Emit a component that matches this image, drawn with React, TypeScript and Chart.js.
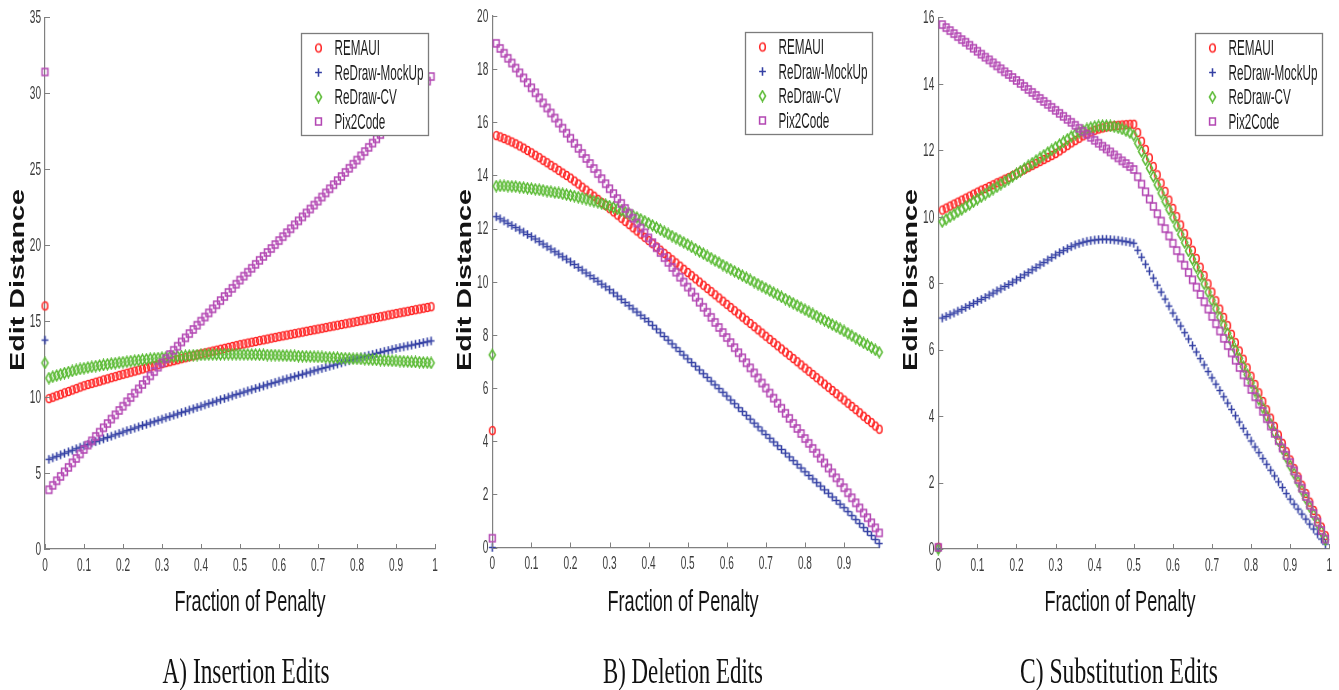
import React, { useEffect, useRef } from 'react';
import { Chart, registerables } from 'chart.js';

Chart.register(...registerables);

// ---------------- data ----------------
const seriesNames = ['REMAUI', 'ReDraw-MockUp', 'ReDraw-CV', 'Pix2Code'];
const seriesColors = ['#ff2424', '#3440a4', '#5cbb36', '#b347b3'];
const seriesShapes = ['circle', 'plus', 'diamond', 'square'];

const penalty = [
  0.01, 0.02, 0.03, 0.04, 0.05, 0.06, 0.07, 0.08, 0.09, 0.1,
  0.11, 0.12, 0.13, 0.14, 0.15, 0.16, 0.17, 0.18, 0.19, 0.2,
  0.21, 0.22, 0.23, 0.24, 0.25, 0.26, 0.27, 0.28, 0.29, 0.3,
  0.31, 0.32, 0.33, 0.34, 0.35, 0.36, 0.37, 0.38, 0.39, 0.4,
  0.41, 0.42, 0.43, 0.44, 0.45, 0.46, 0.47, 0.48, 0.49, 0.5,
  0.51, 0.52, 0.53, 0.54, 0.55, 0.56, 0.57, 0.58, 0.59, 0.6,
  0.61, 0.62, 0.63, 0.64, 0.65, 0.66, 0.67, 0.68, 0.69, 0.7,
  0.71, 0.72, 0.73, 0.74, 0.75, 0.76, 0.77, 0.78, 0.79, 0.8,
  0.81, 0.82, 0.83, 0.84, 0.85, 0.86, 0.87, 0.88, 0.89, 0.9,
  0.91, 0.92, 0.93, 0.94, 0.95, 0.96, 0.97, 0.98, 0.99,
];

// value at penalty 0 (isolated first point) for REMAUI, MockUp, CV, Pix2Code
const insertionAtZero = [16.0, 13.75, 12.25, 31.4];
const deletionAtZero = [4.4, 0.0, 7.25, 0.35];
const substitutionAtZero = [0.05, 0.0, 0.0, 0.05];

// A) Insertion edits
const insREMAUI = [
  9.90, 9.99, 10.09, 10.18, 10.28, 10.37, 10.47, 10.56, 10.66, 10.75,
  10.83, 10.90, 10.98, 11.05, 11.13, 11.20, 11.28, 11.35, 11.43, 11.50,
  11.57, 11.64, 11.71, 11.78, 11.85, 11.92, 11.99, 12.06, 12.13, 12.20,
  12.27, 12.33, 12.40, 12.46, 12.53, 12.59, 12.66, 12.72, 12.79, 12.85,
  12.91, 12.97, 13.03, 13.09, 13.15, 13.21, 13.27, 13.33, 13.39, 13.45,
  13.50, 13.56, 13.61, 13.66, 13.72, 13.77, 13.82, 13.88, 13.93, 13.98,
  14.03, 14.08, 14.13, 14.18, 14.23, 14.28, 14.33, 14.38, 14.43, 14.48,
  14.53, 14.58, 14.63, 14.68, 14.73, 14.78, 14.83, 14.88, 14.93, 14.98,
  15.03, 15.08, 15.14, 15.19, 15.24, 15.29, 15.34, 15.40, 15.45, 15.50,
  15.55, 15.60, 15.65, 15.70, 15.75, 15.80, 15.85, 15.90, 15.95,
];
const insMockUp = [
  5.90, 6.00, 6.10, 6.20, 6.30, 6.40, 6.50, 6.60, 6.70, 6.80,
  6.89, 6.98, 7.07, 7.16, 7.25, 7.34, 7.43, 7.52, 7.61, 7.70,
  7.79, 7.87, 7.96, 8.04, 8.13, 8.21, 8.30, 8.38, 8.47, 8.55,
  8.64, 8.72, 8.81, 8.89, 8.98, 9.06, 9.15, 9.23, 9.32, 9.40,
  9.49, 9.57, 9.66, 9.74, 9.83, 9.91, 10.00, 10.08, 10.17, 10.25,
  10.33, 10.41, 10.49, 10.57, 10.65, 10.73, 10.81, 10.89, 10.97, 11.05,
  11.13, 11.20, 11.28, 11.35, 11.43, 11.50, 11.58, 11.65, 11.73, 11.80,
  11.88, 11.95, 12.03, 12.10, 12.18, 12.25, 12.33, 12.40, 12.48, 12.55,
  12.62, 12.68, 12.75, 12.81, 12.88, 12.94, 13.01, 13.07, 13.14, 13.20,
  13.26, 13.31, 13.37, 13.42, 13.48, 13.53, 13.59, 13.64, 13.70,
];
const insCV = [
  11.25, 11.34, 11.42, 11.50, 11.58, 11.65, 11.72, 11.79, 11.85, 11.90,
  11.95, 11.99, 12.04, 12.08, 12.12, 12.16, 12.20, 12.23, 12.27, 12.30,
  12.33, 12.37, 12.40, 12.43, 12.46, 12.49, 12.52, 12.55, 12.57, 12.60,
  12.62, 12.64, 12.66, 12.68, 12.70, 12.72, 12.73, 12.75, 12.77, 12.78,
  12.79, 12.80, 12.80, 12.81, 12.81, 12.82, 12.82, 12.82, 12.82, 12.82,
  12.81, 12.81, 12.80, 12.80, 12.79, 12.78, 12.77, 12.77, 12.76, 12.75,
  12.74, 12.73, 12.72, 12.71, 12.70, 12.69, 12.68, 12.67, 12.66, 12.65,
  12.64, 12.62, 12.61, 12.60, 12.59, 12.57, 12.56, 12.55, 12.53, 12.52,
  12.51, 12.49, 12.48, 12.46, 12.45, 12.44, 12.42, 12.41, 12.39, 12.38,
  12.37, 12.35, 12.34, 12.32, 12.31, 12.30, 12.28, 12.27, 12.25,
];
const insPix2Code = [
  3.90, 4.19, 4.49, 4.78, 5.08, 5.37, 5.67, 5.96, 6.26, 6.55,
  6.84, 7.12, 7.41, 7.69, 7.98, 8.26, 8.55, 8.83, 9.12, 9.40,
  9.69, 9.97, 10.26, 10.54, 10.83, 11.11, 11.40, 11.68, 11.97, 12.25,
  12.53, 12.80, 13.08, 13.35, 13.63, 13.90, 14.18, 14.45, 14.73, 15.00,
  15.27, 15.54, 15.81, 16.08, 16.35, 16.62, 16.89, 17.16, 17.43, 17.70,
  17.96, 18.22, 18.48, 18.74, 19.00, 19.26, 19.52, 19.78, 20.04, 20.30,
  20.56, 20.82, 21.08, 21.34, 21.60, 21.86, 22.12, 22.38, 22.64, 22.90,
  23.17, 23.44, 23.71, 23.98, 24.25, 24.52, 24.79, 25.06, 25.33, 25.60,
  25.88, 26.16, 26.44, 26.72, 27.00, 27.28, 27.56, 27.84, 28.12, 28.40,
  28.70, 29.00, 29.30, 29.60, 29.90, 30.20, 30.50, 30.80, 31.10,
];

// B) Deletion edits
const delREMAUI = [
  15.50, 15.45, 15.39, 15.33, 15.26, 15.19, 15.11, 15.03, 14.94, 14.85,
  14.76, 14.67, 14.57, 14.48, 14.38, 14.29, 14.19, 14.09, 14.00, 13.90,
  13.79, 13.68, 13.56, 13.45, 13.33, 13.22, 13.10, 12.98, 12.87, 12.75,
  12.63, 12.51, 12.39, 12.27, 12.15, 12.03, 11.91, 11.79, 11.67, 11.55,
  11.43, 11.31, 11.19, 11.07, 10.95, 10.83, 10.71, 10.59, 10.47, 10.35,
  10.23, 10.11, 9.99, 9.87, 9.75, 9.63, 9.51, 9.39, 9.27, 9.15,
  9.03, 8.91, 8.79, 8.67, 8.55, 8.43, 8.31, 8.19, 8.07, 7.95,
  7.83, 7.71, 7.59, 7.47, 7.35, 7.23, 7.11, 6.99, 6.87, 6.75,
  6.63, 6.51, 6.39, 6.27, 6.15, 6.03, 5.91, 5.79, 5.67, 5.55,
  5.43, 5.31, 5.19, 5.07, 4.94, 4.82, 4.70, 4.57, 4.45,
];
const delMockUp = [
  12.45, 12.37, 12.29, 12.20, 12.12, 12.04, 11.95, 11.87, 11.78, 11.70,
  11.61, 11.51, 11.42, 11.32, 11.23, 11.13, 11.04, 10.94, 10.85, 10.75,
  10.65, 10.54, 10.44, 10.33, 10.23, 10.12, 10.02, 9.91, 9.81, 9.70,
  9.58, 9.46, 9.34, 9.22, 9.10, 8.98, 8.86, 8.74, 8.62, 8.50,
  8.36, 8.22, 8.08, 7.94, 7.80, 7.66, 7.52, 7.38, 7.24, 7.10,
  6.96, 6.82, 6.68, 6.54, 6.40, 6.26, 6.12, 5.98, 5.84, 5.70,
  5.55, 5.41, 5.26, 5.12, 4.97, 4.83, 4.68, 4.54, 4.39, 4.25,
  4.11, 3.97, 3.83, 3.69, 3.55, 3.41, 3.27, 3.13, 2.99, 2.85,
  2.71, 2.58, 2.44, 2.31, 2.17, 2.04, 1.90, 1.77, 1.63, 1.50,
  1.35, 1.20, 1.05, 0.90, 0.75, 0.60, 0.45, 0.30, 0.15,
];
const delCV = [
  13.60, 13.61, 13.61, 13.60, 13.59, 13.58, 13.56, 13.54, 13.52, 13.50,
  13.48, 13.46, 13.44, 13.41, 13.39, 13.36, 13.34, 13.31, 13.28, 13.25,
  13.22, 13.18, 13.15, 13.11, 13.07, 13.03, 12.99, 12.94, 12.90, 12.85,
  12.80, 12.74, 12.68, 12.62, 12.56, 12.49, 12.42, 12.35, 12.28, 12.20,
  12.12, 12.04, 11.96, 11.88, 11.80, 11.72, 11.64, 11.56, 11.48, 11.40,
  11.31, 11.23, 11.14, 11.06, 10.97, 10.89, 10.80, 10.72, 10.63, 10.55,
  10.47, 10.39, 10.31, 10.23, 10.15, 10.07, 9.99, 9.91, 9.83, 9.75,
  9.67, 9.59, 9.51, 9.43, 9.35, 9.27, 9.19, 9.11, 9.03, 8.95,
  8.87, 8.79, 8.71, 8.63, 8.55, 8.47, 8.39, 8.31, 8.23, 8.15,
  8.06, 7.97, 7.88, 7.79, 7.70, 7.62, 7.53, 7.44, 7.35,
];
const delPix2Code = [
  18.97, 18.78, 18.60, 18.41, 18.23, 18.04, 17.86, 17.67, 17.49, 17.30,
  17.11, 16.92, 16.73, 16.54, 16.35, 16.16, 15.97, 15.78, 15.59, 15.40,
  15.21, 15.02, 14.83, 14.64, 14.45, 14.26, 14.07, 13.88, 13.69, 13.50,
  13.32, 13.13, 12.95, 12.76, 12.58, 12.39, 12.21, 12.02, 11.84, 11.65,
  11.47, 11.28, 11.10, 10.91, 10.73, 10.54, 10.36, 10.17, 9.99, 9.80,
  9.61, 9.42, 9.23, 9.04, 8.85, 8.66, 8.47, 8.28, 8.09, 7.90,
  7.71, 7.52, 7.33, 7.14, 6.95, 6.76, 6.57, 6.38, 6.19, 6.00,
  5.81, 5.62, 5.43, 5.24, 5.05, 4.86, 4.67, 4.48, 4.29, 4.10,
  3.92, 3.73, 3.55, 3.36, 3.18, 2.99, 2.81, 2.62, 2.44, 2.25,
  2.06, 1.87, 1.68, 1.49, 1.30, 1.12, 0.93, 0.74, 0.55,
];

// C) Substitution edits
const subREMAUI = [
  10.20, 10.26, 10.32, 10.38, 10.44, 10.50, 10.56, 10.62, 10.68, 10.74,
  10.80, 10.85, 10.91, 10.96, 11.02, 11.07, 11.13, 11.18, 11.24, 11.30,
  11.36, 11.42, 11.48, 11.54, 11.60, 11.66, 11.72, 11.78, 11.84, 11.90,
  11.98, 12.06, 12.14, 12.22, 12.29, 12.36, 12.43, 12.49, 12.55, 12.60,
  12.64, 12.67, 12.70, 12.72, 12.74, 12.75, 12.76, 12.77, 12.78, 12.78,
  12.53, 12.27, 12.02, 11.77, 11.51, 11.26, 11.01, 10.76, 10.50, 10.25,
  10.00, 9.75, 9.49, 9.24, 8.99, 8.74, 8.48, 8.23, 7.98, 7.73,
  7.47, 7.22, 6.97, 6.72, 6.46, 6.21, 5.96, 5.71, 5.45, 5.20,
  4.95, 4.70, 4.44, 4.19, 3.94, 3.69, 3.43, 3.18, 2.93, 2.68,
  2.42, 2.17, 1.92, 1.67, 1.41, 1.16, 0.91, 0.66, 0.40,
];
const subMockUp = [
  6.95, 7.00, 7.05, 7.10, 7.16, 7.21, 7.27, 7.33, 7.39, 7.45,
  7.51, 7.57, 7.64, 7.70, 7.77, 7.83, 7.90, 7.96, 8.03, 8.10,
  8.17, 8.25, 8.32, 8.40, 8.47, 8.55, 8.62, 8.70, 8.77, 8.85,
  8.92, 8.98, 9.04, 9.10, 9.15, 9.19, 9.23, 9.26, 9.28, 9.30,
  9.31, 9.32, 9.32, 9.31, 9.30, 9.29, 9.27, 9.25, 9.23, 9.20,
  8.99, 8.78, 8.57, 8.36, 8.15, 7.94, 7.73, 7.52, 7.31, 7.10,
  6.90, 6.71, 6.51, 6.32, 6.12, 5.93, 5.73, 5.54, 5.34, 5.15,
  4.96, 4.77, 4.58, 4.39, 4.20, 4.01, 3.82, 3.63, 3.44, 3.25,
  3.07, 2.90, 2.72, 2.55, 2.37, 2.20, 2.02, 1.85, 1.67, 1.50,
  1.35, 1.20, 1.05, 0.90, 0.75, 0.60, 0.45, 0.30, 0.15,
];
const subCV = [
  9.85, 9.92, 10.00, 10.07, 10.15, 10.22, 10.30, 10.37, 10.45, 10.53,
  10.60, 10.68, 10.75, 10.83, 10.90, 10.98, 11.05, 11.13, 11.21, 11.29,
  11.37, 11.45, 11.53, 11.61, 11.69, 11.77, 11.85, 11.93, 12.01, 12.09,
  12.17, 12.25, 12.33, 12.41, 12.48, 12.54, 12.59, 12.64, 12.68, 12.71,
  12.73, 12.74, 12.74, 12.73, 12.71, 12.68, 12.64, 12.59, 12.53, 12.45,
  12.21, 11.96, 11.71, 11.46, 11.21, 10.96, 10.71, 10.46, 10.22, 9.97,
  9.72, 9.47, 9.22, 8.97, 8.72, 8.48, 8.23, 7.98, 7.73, 7.48,
  7.23, 6.98, 6.74, 6.49, 6.24, 5.99, 5.74, 5.49, 5.25, 5.00,
  4.75, 4.50, 4.25, 4.00, 3.76, 3.51, 3.26, 3.01, 2.76, 2.51,
  2.27, 2.02, 1.77, 1.52, 1.27, 1.03, 0.78, 0.53, 0.28,
];
const subPix2Code = [
  15.78, 15.69, 15.60, 15.51, 15.42, 15.33, 15.25, 15.16, 15.07, 14.98,
  14.89, 14.80, 14.72, 14.63, 14.54, 14.45, 14.36, 14.28, 14.19, 14.10,
  14.01, 13.92, 13.83, 13.74, 13.65, 13.56, 13.47, 13.38, 13.29, 13.20,
  13.11, 13.02, 12.93, 12.84, 12.75, 12.66, 12.57, 12.48, 12.39, 12.30,
  12.21, 12.12, 12.04, 11.95, 11.86, 11.77, 11.68, 11.60, 11.51, 11.42,
  11.20, 10.98, 10.75, 10.53, 10.31, 10.09, 9.87, 9.64, 9.42, 9.20,
  8.98, 8.76, 8.54, 8.32, 8.10, 7.88, 7.66, 7.44, 7.22, 7.00,
  6.78, 6.56, 6.34, 6.12, 5.90, 5.68, 5.46, 5.24, 5.02, 4.80,
  4.58, 4.36, 4.14, 3.92, 3.70, 3.48, 3.26, 3.04, 2.82, 2.60,
  2.35, 2.09, 1.83, 1.58, 1.32, 1.07, 0.81, 0.56, 0.30,
];

// tick labels
const xTicksFull = [0, 0.1, 0.2, 0.3, 0.4, 0.5, 0.6, 0.7, 0.8, 0.9, 1];
const xTicksDeletion = [0, 0.1, 0.2, 0.3, 0.4, 0.5, 0.6, 0.7, 0.8, 0.9];
const yTicksInsertion = [0, 5, 10, 15, 20, 25, 30, 35];
const yTicksDeletion = [0, 2, 4, 6, 8, 10, 12, 14, 16, 18, 20];
const yTicksSubstitution = [0, 2, 4, 6, 8, 10, 12, 14, 16];

const captions = ['A) Insertion Edits', 'B) Deletion Edits', 'C) Substitution Edits'];
const xTitle = 'Fraction of Penalty';
const yTitle = 'Edit Distance';

// ---------------- layout / style ----------------
const AXIS_COLOR = '#808080';
const TICK_TEXT = '#3c3c3c';
const TITLE_TEXT = '#141414';
const SANS = '"Liberation Sans", Arial, Helvetica, sans-serif';
const SERIF = '"Liberation Serif", "Times New Roman", serif';
const PAGE_H = 690;

const panels = [
  {
    left: 0, width: 446,
    area: { l: 45, r: 435, t: 17.3, b: 549 },
    xMax: 1, yMax: 35,
    xTicks: xTicksFull, yTicks: yTicksInsertion,
    atZero: insertionAtZero,
    series: [insREMAUI, insMockUp, insCV, insPix2Code],
    caption: captions[0], captionX: 246, captionW: 167, xTitleX: 250,
  },
  {
    left: 446, width: 446,
    area: { l: 492.3, r: 879.2, t: 16, b: 547.5 },
    xMax: 0.99, yMax: 20,
    xTicks: xTicksDeletion, yTicks: yTicksDeletion,
    atZero: deletionAtZero,
    series: [delREMAUI, delMockUp, delCV, delPix2Code],
    caption: captions[1], captionX: 683, captionW: 160, xTitleX: 683,
  },
  {
    left: 892, width: 447,
    area: { l: 938.3, r: 1329.3, t: 17.3, b: 549 },
    xMax: 1, yMax: 16,
    xTicks: xTicksFull, yTicks: yTicksSubstitution,
    atZero: substitutionAtZero,
    series: [subREMAUI, subMockUp, subCV, subPix2Code],
    caption: captions[2], captionX: 1119, captionW: 198, xTitleX: 1120,
  },
];

function makeMarker(shape: string, color: string): HTMLCanvasElement {
  const c = document.createElement('canvas');
  c.width = 11;
  c.height = 13;
  const g = c.getContext('2d')!;
  g.strokeStyle = color;
  g.lineWidth = 1.55;
  const cx = 5.5, cy = 6.5;
  g.beginPath();
  if (shape === 'circle') {
    g.ellipse(cx, cy, 2.8, 4.0, 0, 0, Math.PI * 2);
  } else if (shape === 'plus') {
    g.moveTo(cx, cy - 4.3); g.lineTo(cx, cy + 4.3);
    g.moveTo(cx - 3.4, cy); g.lineTo(cx + 3.4, cy);
  } else if (shape === 'diamond') {
    g.moveTo(cx, cy - 5.2); g.lineTo(cx + 3.1, cy); g.lineTo(cx, cy + 5.2); g.lineTo(cx - 3.1, cy); g.closePath();
  } else {
    g.rect(cx - 2.9, cy - 3.5, 5.8, 7);
  }
  g.stroke();
  return c;
}

function textWidth(ctx: CanvasRenderingContext2D, text: string, font: string) {
  ctx.save();
  ctx.font = font;
  const w = ctx.measureText(text).width;
  ctx.restore();
  return w;
}

function drawText(
  ctx: CanvasRenderingContext2D, text: string, x: number, y: number, font: string,
  sx: number, align: CanvasTextAlign, baseline: CanvasTextBaseline, color: string, rot = 0,
) {
  ctx.save();
  ctx.translate(x, y);
  if (rot) ctx.rotate(rot);
  ctx.scale(sx, 1);
  ctx.font = font;
  ctx.fillStyle = color;
  ctx.textAlign = align;
  ctx.textBaseline = baseline;
  ctx.fillText(text, 0, 0);
  ctx.restore();
}

function Panel({ p }: { p: any }) {
  const ref = useRef<HTMLCanvasElement>(null);
  useEffect(() => {
    const canvas = ref.current!;
    const markers = seriesShapes.map((s, i) => makeMarker(s, seriesColors[i]));
    const L = p.area.l - p.left;
    const R = p.area.r - p.left;
    const T = p.area.t;
    const B = p.area.b;

    const decor = {
      id: 'decor',
      afterDraw(chart: any) {
        const ctx: CanvasRenderingContext2D = chart.ctx;
        const xs = chart.scales.x;
        const ys = chart.scales.y;
        const ca = chart.chartArea;

        // inward tick marks
        ctx.save();
        ctx.strokeStyle = AXIS_COLOR;
        ctx.lineWidth = 1;
        ctx.beginPath();
        p.xTicks.forEach((v: number) => {
          const px = Math.round(xs.getPixelForValue(v)) + 0.5;
          ctx.moveTo(px, ca.bottom);
          ctx.lineTo(px, ca.bottom - 5);
        });
        p.yTicks.forEach((v: number) => {
          const py = Math.round(ys.getPixelForValue(v)) + 0.5;
          ctx.moveTo(ca.left, py);
          ctx.lineTo(ca.left + 5, py);
        });
        ctx.stroke();
        ctx.restore();

        // tick labels (tall, narrow)
        const tickFont = `17.5px ${SANS}`;
        const tickSx = 14 / textWidth(ctx, '0.1', tickFont);
        p.xTicks.forEach((v: number) => {
          drawText(ctx, String(v), xs.getPixelForValue(v), ca.bottom + 17, tickFont, tickSx, 'center', 'middle', TICK_TEXT);
        });
        p.yTicks.forEach((v: number) => {
          drawText(ctx, String(v), ca.left - 4, ys.getPixelForValue(v) + 1, tickFont, tickSx, 'right', 'middle', TICK_TEXT);
        });

        // x axis title
        const xtFont = `29px ${SANS}`;
        const xtSx = 151 / textWidth(ctx, xTitle, xtFont);
        drawText(ctx, xTitle, p.xTitleX - p.left, 611, xtFont, xtSx, 'center', 'alphabetic', TITLE_TEXT);

        // y axis title (rotated, stretched along its length)
        const ytFont = `bold 20px ${SANS}`;
        const ytSx = 182 / textWidth(ctx, yTitle, ytFont);
        drawText(ctx, yTitle, ca.left - 27, 280, ytFont, ytSx, 'center', 'middle', TITLE_TEXT, -Math.PI / 2);

        // caption
        const capFont = `36px ${SERIF}`;
        const capSx = p.captionW / textWidth(ctx, p.caption, capFont);
        drawText(ctx, p.caption, p.captionX - p.left, 683, capFont, capSx, 'center', 'alphabetic', '#111111');

        // legend box
        const bw = 127, bh = 102;
        const bx = Math.round(ca.right - 7 - bw) + 0.5;
        const by = Math.round(ca.top + 16) + 0.5;
        ctx.save();
        ctx.fillStyle = '#ffffff';
        ctx.fillRect(bx, by, bw, bh);
        ctx.strokeStyle = '#7c7c7c';
        ctx.lineWidth = 1.3;
        ctx.strokeRect(bx, by, bw, bh);
        ctx.restore();
        const legFont = `22px ${SANS}`;
        const legSx = 89 / textWidth(ctx, 'ReDraw-MockUp', legFont);
        seriesNames.forEach((name, i) => {
          const ry = by + 14.5 + i * 24.5;
          const m = markers[i];
          ctx.drawImage(m, bx + 17 - m.width / 2, ry - m.height / 2);
          drawText(ctx, name, bx + 33, ry + 1, legFont, legSx, 'left', 'middle', '#1e1e1e');
        });
      },
    };

    const datasets = seriesNames.map((name, i) => ({
      label: name,
      data: [
        { x: 0, y: p.atZero[i] },
        ...penalty.map((x, j) => ({ x, y: p.series[i][j] })),
      ],
      pointStyle: markers[i],
      pointRadius: 4,
      showLine: false,
      clip: false,
      order: 3 - i,
    }));

    const chart = new Chart(canvas, {
      type: 'scatter',
      data: { datasets },
      options: {
        animation: false,
        responsive: false,
        maintainAspectRatio: false,
        events: [],
        layout: {
          autoPadding: false,
          padding: { left: 0, top: T, right: p.width - R, bottom: 0 },
        },
        plugins: {
          legend: { display: false },
          tooltip: { enabled: false },
          title: { display: false },
        },
        scales: {
          x: {
            type: 'linear',
            min: 0,
            max: p.xMax,
            grid: { display: false },
            border: { display: true, color: AXIS_COLOR, width: 1.2 },
            ticks: { display: false, stepSize: 0.1 },
            title: { display: false },
            afterFit: (s: any) => { s.height = PAGE_H - B; },
          },
          y: {
            type: 'linear',
            min: 0,
            max: p.yMax,
            grid: { display: false },
            border: { display: true, color: AXIS_COLOR, width: 1.2 },
            ticks: { display: false },
            title: { display: false },
            afterFit: (s: any) => { s.width = L; },
          },
        },
      } as any,
      plugins: [decor],
    });
    return () => chart.destroy();
  }, []);
  return (
    <canvas
      ref={ref}
      width={p.width}
      height={PAGE_H}
      style={{ position: 'absolute', left: p.left, top: 0, width: p.width, height: PAGE_H }}
    />
  );
}

export default function App() {
  return (
    <div style={{ position: 'absolute', left: 0, top: 0, width: 1339, height: PAGE_H, background: '#ffffff', overflow: 'hidden' }}>
      {panels.map((p, i) => <Panel key={i} p={p} />)}
    </div>
  );
}
